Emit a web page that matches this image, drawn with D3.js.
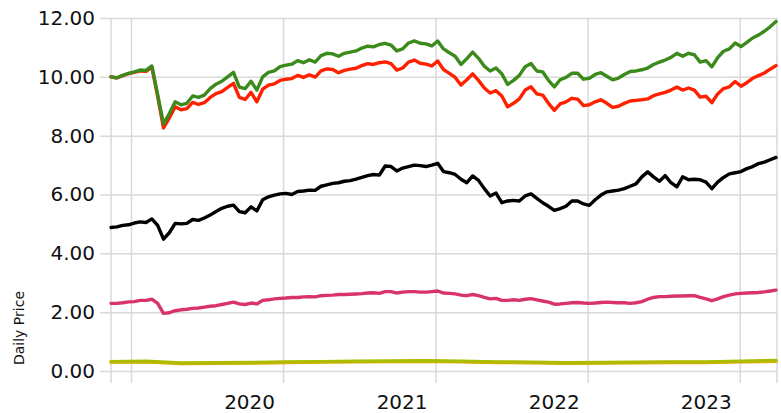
<!DOCTYPE html>
<html>
<head>
<meta charset="utf-8">
<script src="https://cdn.jsdelivr.net/npm/d3@7"></script>
<style>
  html, body { margin: 0; padding: 0; background: #fff; }
  svg { display: block; }
  .axis text { font-family: "DejaVu Sans", Verdana, sans-serif; fill: #111; }
  .axis path { display: none; }
  .axis line { stroke: #d9d9d9; stroke-width: 1.5; }
</style>
</head>
<body>
<svg id="chart"></svg>
<script>
// sampling: one point every 14 days
const startDate = new Date(2018, 10, 14);
const stepDays = 14;

const greenValues = [
  10.00, 9.97, 10.05, 10.12, 10.17, 10.23, 10.22, 10.37, 9.40, 8.40,
  8.75, 9.15, 9.05, 9.10, 9.35, 9.30, 9.38, 9.60, 9.75, 9.85,
  10.00, 10.15, 9.65, 9.60, 9.85, 9.55, 10.00, 10.15, 10.20, 10.35,
  10.40, 10.43, 10.55, 10.48, 10.58, 10.50, 10.72, 10.80, 10.78, 10.70,
  10.80, 10.84, 10.88, 10.98, 11.04, 11.02, 11.10, 11.14, 11.08, 10.88,
  10.95, 11.15, 11.22, 11.14, 11.12, 11.05, 11.22, 10.95, 10.82, 10.70,
  10.42, 10.62, 10.84, 10.63, 10.36, 10.20, 10.30, 10.10, 9.74, 9.88,
  10.05, 10.34, 10.45, 10.20, 10.17, 9.88, 9.66, 9.90, 9.98, 10.12,
  10.12, 9.92, 9.95, 10.08, 10.14, 10.02, 9.90, 9.96, 10.08, 10.18,
  10.20, 10.24, 10.30, 10.42, 10.50, 10.57, 10.66, 10.80, 10.70, 10.80,
  10.75, 10.50, 10.55, 10.34, 10.65, 10.87, 10.95, 11.15, 11.03, 11.17,
  11.32, 11.42, 11.55, 11.70, 11.88
];

const redValues = [
  10.00, 9.96, 10.04, 10.11, 10.15, 10.20, 10.19, 10.33, 9.33, 8.26,
  8.60, 8.98, 8.88, 8.92, 9.13, 9.06, 9.12, 9.30, 9.43, 9.50,
  9.64, 9.78, 9.30, 9.23, 9.47, 9.15, 9.58, 9.72, 9.76, 9.88,
  9.92, 9.94, 10.05, 9.98, 10.07, 9.99, 10.20, 10.27, 10.25, 10.14,
  10.22, 10.26, 10.29, 10.38, 10.45, 10.42, 10.48, 10.51, 10.45, 10.23,
  10.30, 10.50, 10.57, 10.46, 10.43, 10.37, 10.54, 10.25, 10.12, 9.98,
  9.72, 9.90, 10.10, 9.88, 9.62, 9.45, 9.53, 9.35, 8.98, 9.10,
  9.25, 9.55, 9.66, 9.42, 9.38, 9.10, 8.86, 9.08, 9.15, 9.27,
  9.24, 9.02, 9.05, 9.15, 9.22, 9.10, 8.96, 9.00, 9.10, 9.18,
  9.20, 9.22, 9.25, 9.36, 9.42, 9.47, 9.55, 9.65, 9.55, 9.62,
  9.55, 9.31, 9.34, 9.12, 9.42, 9.60, 9.66, 9.84, 9.68, 9.80,
  9.95, 10.04, 10.13, 10.26, 10.38
];

const blackValues = [
  4.88, 4.90, 4.95, 4.97, 5.03, 5.07, 5.05, 5.17, 4.95, 4.48,
  4.70, 5.02, 5.00, 5.02, 5.15, 5.12, 5.20, 5.30, 5.42, 5.53,
  5.60, 5.64, 5.42, 5.38, 5.58, 5.44, 5.82, 5.92, 5.98, 6.02,
  6.04, 6.00, 6.10, 6.12, 6.15, 6.14, 6.28, 6.33, 6.38, 6.40,
  6.45, 6.47, 6.52, 6.58, 6.64, 6.68, 6.66, 6.97, 6.95, 6.80,
  6.90, 6.95, 7.00, 6.98, 6.95, 7.00, 7.06, 6.78, 6.74, 6.68,
  6.52, 6.40, 6.63, 6.48, 6.20, 5.95, 6.05, 5.72, 5.78, 5.80,
  5.78, 5.95, 6.02, 5.87, 5.72, 5.60, 5.46, 5.52, 5.60, 5.78,
  5.78, 5.68, 5.63, 5.82, 5.98, 6.09, 6.12, 6.15, 6.20, 6.28,
  6.36, 6.60, 6.77, 6.60, 6.45, 6.64, 6.40, 6.26, 6.60, 6.50,
  6.52, 6.50, 6.42, 6.20, 6.42, 6.58, 6.70, 6.74, 6.78, 6.88,
  6.95, 7.05, 7.10, 7.18, 7.26
];

const pinkValues = [
  2.30, 2.30, 2.32, 2.35, 2.36, 2.40, 2.40, 2.44, 2.30, 1.96,
  1.98, 2.05, 2.08, 2.10, 2.13, 2.14, 2.17, 2.20, 2.22, 2.26,
  2.30, 2.34, 2.28, 2.26, 2.31, 2.28, 2.40, 2.42, 2.45, 2.47,
  2.48, 2.50, 2.50, 2.52, 2.53, 2.52, 2.56, 2.57, 2.58, 2.60,
  2.60, 2.61, 2.62, 2.63, 2.65, 2.66, 2.64, 2.70, 2.70, 2.65,
  2.68, 2.70, 2.70, 2.68, 2.68, 2.70, 2.72, 2.65, 2.64, 2.62,
  2.58, 2.56, 2.60, 2.56, 2.50, 2.45, 2.47, 2.40, 2.40, 2.42,
  2.40, 2.44, 2.46, 2.42, 2.38, 2.34, 2.27, 2.28, 2.30, 2.32,
  2.33, 2.31, 2.30, 2.31, 2.33, 2.34, 2.33, 2.32, 2.32, 2.30,
  2.32, 2.36, 2.44, 2.50, 2.53, 2.53, 2.54, 2.55, 2.55, 2.56,
  2.56, 2.50, 2.45, 2.39, 2.45, 2.53, 2.58, 2.62, 2.64, 2.65,
  2.66, 2.67, 2.69, 2.72, 2.75
];

// the two low series are sampled every 6th point
const flatEvery = 6;
const oliveValues = [
  0.32, 0.33, 0.27, 0.28, 0.29, 0.31, 0.32, 0.33, 0.34, 0.35,
  0.33, 0.31, 0.30, 0.28, 0.29, 0.30, 0.31, 0.31, 0.33, 0.36
];
const orangeValues = [
  0.30, 0.31, 0.25, 0.26, 0.27, 0.29, 0.30, 0.31, 0.32, 0.33,
  0.31, 0.29, 0.28, 0.26, 0.27, 0.28, 0.29, 0.29, 0.31, 0.33
];

const yTicks = [0, 2, 4, 6, 8, 10, 12];
const yearTicks = [2019, 2020, 2021, 2022, 2023];
const yLabel = "Daily Price";

const dates = greenValues.map((v, i) => d3.timeDay.offset(startDate, i * stepDays));
const flatDates = dates.filter((d, i) => i % flatEvery === 0);

const series = [
  { name: "orange", color: "#f2a200", dates: flatDates, values: orangeValues },
  { name: "olive", color: "#adbc00", dates: flatDates, values: oliveValues },
  { name: "pink", color: "#d9336c", dates: dates, values: pinkValues },
  { name: "black", color: "#000000", dates: dates, values: blackValues },
  { name: "red", color: "#ff2000", dates: dates, values: redValues },
  { name: "green", color: "#3b8a1c", dates: dates, values: greenValues }
];

const width = 781, height = 413;
const margin = { top: 18, right: 4, bottom: 42, left: 111 };
const innerW = width - margin.left - margin.right;
const innerH = height - margin.top - margin.bottom;

const svg = d3.select("#chart").attr("width", width).attr("height", height);
const g = svg.append("g").attr("transform", `translate(${margin.left},${margin.top})`);

const x = d3.scaleTime()
  .domain([dates[0], dates[dates.length - 1]])
  .range([0, innerW - 1]);
const y = d3.scaleLinear().domain([0, 12]).range([innerH, 0]);

// y axis + horizontal grid
const yAxis = g.append("g")
  .attr("class", "axis")
  .call(d3.axisLeft(y).tickValues(yTicks).tickFormat(d3.format(".2f")).tickSize(0).tickPadding(16));
yAxis.selectAll(".tick line").attr("x1", -11).attr("x2", innerW);
yAxis.selectAll("text").style("font-size", "20px");

// x axis + vertical grid
const xAxis = g.append("g")
  .attr("class", "axis")
  .attr("transform", `translate(0,${innerH})`)
  .call(d3.axisBottom(x)
    .tickValues(yearTicks.map(yr => new Date(yr, 0, 1)))
    .tickFormat(d => d.getFullYear() === 2019 ? "" : d3.timeFormat("%Y")(d))
    .tickSize(0));
xAxis.selectAll(".tick line").attr("y1", -innerH).attr("y2", 12);
xAxis.selectAll("text")
  .style("font-size", "20px")
  .attr("text-anchor", "middle")
  .attr("x", -34)
  .attr("y", 38)
  .attr("dy", 0);

// left and right frame lines
g.append("g").selectAll("line")
  .data([0, innerW])
  .join("line")
  .attr("x1", d => d).attr("x2", d => d)
  .attr("y1", 0).attr("y2", innerH + 12)
  .attr("stroke", "#d9d9d9")
  .attr("stroke-width", 1.5);

const line = d3.line()
  .x(d => x(d[0]))
  .y(d => y(d[1]));

g.selectAll(".series")
  .data(series)
  .join("path")
  .attr("class", "series")
  .attr("fill", "none")
  .attr("stroke", d => d.color)
  .attr("stroke-width", 3.4)
  .attr("stroke-linejoin", "round")
  .attr("stroke-linecap", "round")
  .attr("d", d => line(d.values.map((v, i) => [d.dates[i], v])));

svg.append("text")
  .attr("transform", "translate(24,328) rotate(-90)")
  .attr("text-anchor", "middle")
  .style("font-family", "'DejaVu Sans', Verdana, sans-serif")
  .style("font-size", "14px")
  .attr("fill", "#111")
  .text(yLabel);
</script>
</body>
</html>
